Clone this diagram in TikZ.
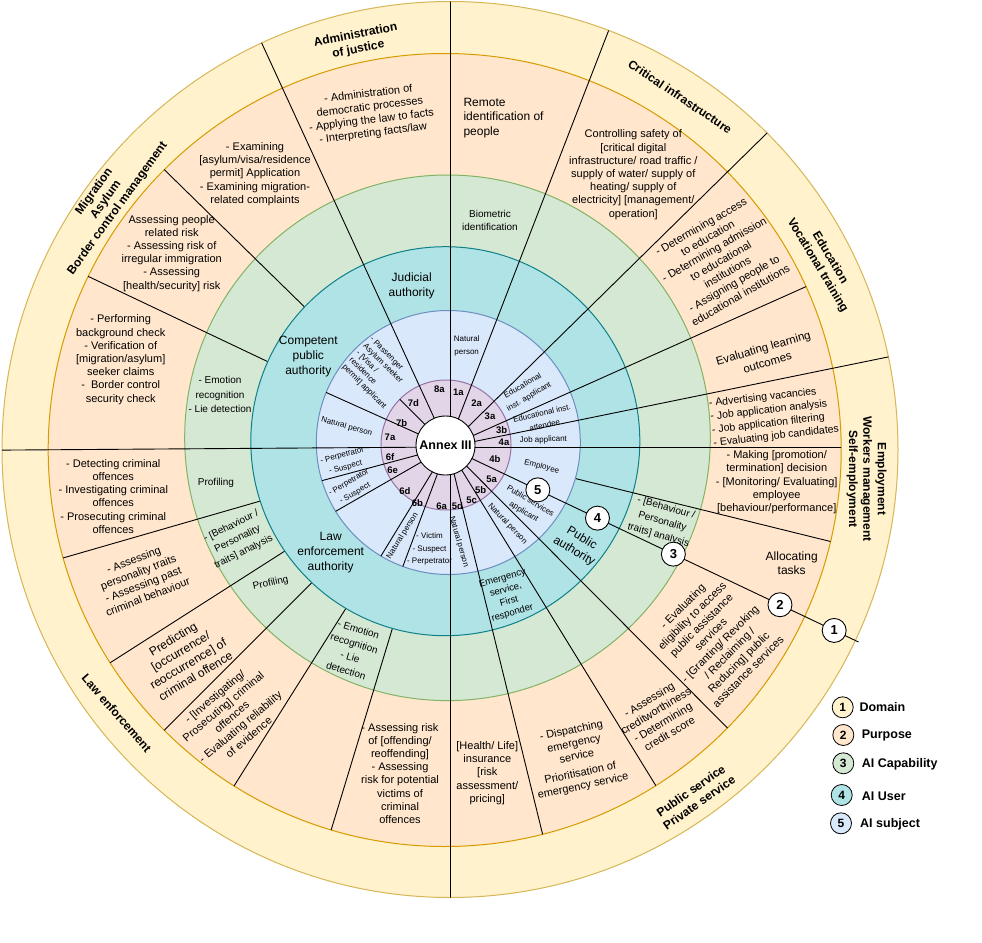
\documentclass[tikz,border=0pt]{standalone}
\usepackage{fontspec}
\setmainfont{Liberation Sans}
\usetikzlibrary{calc}
\definecolor{yF}{HTML}{FFF2CC}\definecolor{yD}{HTML}{D6B656}
\definecolor{pF}{HTML}{FFE6CC}\definecolor{pD}{HTML}{D79B00}
\definecolor{gF}{HTML}{D5E8D4}\definecolor{gD}{HTML}{82B366}
\definecolor{tF}{HTML}{B0E3E6}\definecolor{tD}{HTML}{0E8088}
\definecolor{bF}{HTML}{DAE8FC}\definecolor{bD}{HTML}{6C8EBF}
\definecolor{mF}{HTML}{E1D5E7}\definecolor{mD}{HTML}{9673A6}
\begin{document}
\begin{tikzpicture}[x=1pt,y=1pt,
  tbase/.style={inner sep=0pt, align=center, text=black},
  dom/.style={tbase, font=\fontsize{12}{14.4}\selectfont\bfseries},
  pur/.style={tbase, font=\fontsize{11}{13.2}\selectfont},
  purL/.style={tbase, font=\fontsize{12}{14.5}\selectfont},
  purM/.style={tbase, font=\fontsize{11.5}{15}\selectfont},
  purS/.style={tbase, font=\fontsize{10.5}{13.3}\selectfont},
  capA/.style={tbase, font=\fontsize{10}{14.3}\selectfont},
  capB/.style={tbase, font=\fontsize{10}{13}\selectfont},
  usr/.style={tbase, font=\fontsize{12}{15}\selectfont},
  usrS/.style={tbase, font=\fontsize{9.5}{12}\selectfont},
  subj/.style={tbase, font=\fontsize{8}{12.5}\selectfont},
  subT/.style={tbase, font=\fontsize{8}{9.8}\selectfont},
  idl/.style={tbase, font=\fontsize{9.5}{11}\selectfont\bfseries},
  spoke/.style={draw=black, line width=0.9pt},
  ringline/.style={line width=1pt},
  mk/.style={circle, draw=black, fill=white, line width=0.9pt, minimum size=24pt, inner sep=0pt, font=\fontsize{13}{13}\selectfont\bfseries},
  lg/.style={circle, draw=black, line width=0.8pt, minimum size=21pt, inner sep=0pt, font=\fontsize{12}{12}\selectfont\bfseries},
  lgt/.style={tbase, anchor=west, font=\fontsize{12.5}{13}\selectfont\bfseries}
]
\useasboundingbox (0,0) rectangle (982,-942);
\fill[white] (0,0) rectangle (982,-942);
\coordinate (Lc) at (447.5,-447);
% rings
\draw[ringline, draw=yD, fill=yF] (450,-449.5) circle (448pt);
\draw[ringline, draw=pD, fill=pF] (444.7,-450) circle (396.5pt);
\draw[ringline, draw=gD, fill=gF] (447.5,-437.8) circle (262.8pt);
% spokes from teal edge to peach edge
\begin{scope}
  \clip (444.7,-450) circle (396.5pt);
  \foreach \a in {135.6,154.6,196.1,212.6,225,237.8,253.1} \draw[spoke] (Lc) -- ++(\a:470pt);
\end{scope}
\draw[ringline, draw=tD, fill=tF] (445.3,-441.2) circle (194.5pt);
\begin{scope}
  \clip (444.7,-450) circle (396.5pt);
  \draw[spoke] (Lc) -- ++(-13.86:470pt);
\end{scope}
\draw[ringline, draw=bD, fill=bF] (448.3,-442.5) circle (132pt);
\draw[ringline, draw=mD, fill=mF] (446,-445) circle (65pt);
% spokes inside subject ring
\begin{scope}
  \clip (448.3,-442.5) circle (132pt);
  \foreach \a in {155.8,195.0,209.9,238.6,249.5} \draw[spoke] (Lc) -- ++(\a:200pt);
\end{scope}
\begin{scope}
  \clip (446,-445) circle (65pt);
  \draw[spoke] (Lc) -- ++(135:100pt);
\end{scope}
% spokes centre to purpose edge
\begin{scope}
  \clip (444.7,-450) circle (396.5pt);
  \foreach \a in {24.1,0,-45.1,-58.4,-76.2} \draw[spoke] (Lc) -- ++(\a:470pt);
\end{scope}
% spokes centre to outer edge
\begin{scope}
  \clip (450,-449.5) circle (448pt);
  \foreach \a in {114.7,68.85,44.5,11.55,180.4} \draw[spoke] (Lc) -- ++(\a:500pt);
  \draw[spoke] (450.5,10) -- (450.5,-910);
\end{scope}
\draw[spoke] (Lc) -- ++(-25.38:455pt) coordinate (Pend);
\node[circle, draw=black, fill=white, line width=0.9pt, minimum size=59pt, inner sep=0pt, font=\fontsize{12.5}{14}\selectfont\bfseries] (annex) at (445.5,-445.5) {Annex III};

% domain labels
\node[dom, rotate=11] (d1) at (357,-42.5) {Administration\\of justice};
\node[dom, rotate=-34] (d2) at (680,-96.7) {Critical infrastructure};
\node[dom, rotate=-59] (d3) at (823.7,-261.7) {Education\\Vocational training};
\node[dom, rotate=-90] (d4) at (866.5,-479) {Employment\\Workers management\\Self-employment};
\node[dom, rotate=35] (d5) at (695,-796.7) {Public service\\Private service};
\node[dom, rotate=-49] (d6) at (116.7,-713.3) {Law enforcement};
\node[dom, rotate=54] (d7) at (106,-200) {Migration\\Asylum\\Border control management};

% purpose labels
\node[pur, rotate=7] (p1) at (370.7,-114) {- Administration of\\democratic processes\\- Applying the law to facts\\- Interpreting facts/law};
\node[purL, anchor=west, align=left] (p2) at (463.3,-117.7) {Remote\\identification of\\people};
\node[pur] (p3) at (633.3,-174.7) {Controlling safety of\\{[}critical digital\\infrastructure/ road traffic /\\supply of water/ supply of\\heating/ supply of\\electricity] {[}management/\\operation]};
\node[pur, rotate=30] (p4) at (720.7,-260.7) {- Determining access\\to education\\- Determining admission\\to educational\\institutions\\- Assigning people to\\educational institutions};
\node[purM, rotate=16] (p5) at (765.3,-355) {Evaluating learning\\outcomes};
\node[purS, rotate=6.5, align=left] (p6) at (774,-416.7) {- Advertising vacancies\\- Job application analysis\\- Job application filtering\\- Evaluating job candidates};
\node[pur] (p7) at (776.7,-482.3) {- Making {[}promotion/\\termination] decision\\- {[}Monitoring/ Evaluating]\\employee\\{[}behaviour/performance]};
\node[purL] (p8) at (791.7,-563.3) {Allocating\\tasks};
\node[pur, rotate=45] (p9) at (715.3,-639) {- Evaluating\\eligibility to access\\public assistance\\services\\- {[}Granting/ Revoking\\/ Reclaiming /\\Reducing] public\\assistance services};
\node[pur, rotate=31] (p10) at (659.3,-716.7) {- Assessing\\creditworthiness\\- Determining\\credit score};
\node[pur, rotate=12] (p11) at (577.3,-758.7) {- Dispatching\\emergency\\service\\[4pt]Prioritisation of\\emergency service};
\node[pur] (p12) at (487.3,-773) {{[}Health/ Life]\\insurance\\{[}risk\\assessment/\\pricing]};
\node[pur] (p13) at (400,-773.3) {- Assessing risk\\of {[}offending/\\reoffending]\\- Assessing\\risk for potential\\victims of\\criminal\\offences};
\node[pur, rotate=40] (p14) at (231.7,-716.7) {- {[}Investigating/\\Prosecuting] criminal\\offences\\- Evaluating reliability\\of evidence};
\node[purL, rotate=31] (p15) at (184.3,-657.5) {Predicting\\{[}occurrence/\\reoccurrence] of\\criminal offence};
\node[pur, rotate=21] (p16) at (140.7,-578.3) {- Assessing\\personality traits\\- Assessing past\\criminal behaviour};
\node[pur] (p17) at (113.3,-496.3) {- Detecting criminal\\offences\\- Investigating criminal\\offences\\- Prosecuting criminal\\offences};
\node[pur] (p18) at (120.7,-359.7) {- Performing\\background check\\- Verification of\\{[}migration/asylum]\\seeker claims\\-\ \ Border control\\security check};
\node[pur] (p19) at (171.7,-253.3) {Assessing people\\related risk\\- Assessing risk of\\irregular immigration\\- Assessing\\{[}health/security] risk};
\node[pur] (p20) at (255,-174) {- Examining\\{[}asylum/visa/residence\\permit] Application\\- Examining migration-\\related complaints};

% capability labels
\node[capB] (c1) at (490,-220.8) {Biometric\\identification};
\node[capA] (c2) at (220,-394.5) {- Emotion\\recognition\\- Lie detection};
\node[capA] (c3) at (216,-483.3) {Profiling};
\node[capA, rotate=26] (c4) at (237.5,-539.2) {- {[}Behaviour /\\Personality\\traits] analysis};
\node[capA, rotate=13] (c5) at (270.7,-583.3) {Profiling};
\node[capA, rotate=-17] (c6) at (352.3,-650) {- Emotion\\recognition\\- Lie\\detection};
\node[capA, rotate=-16] (c7) at (662.3,-521.7) {- {[}Behaviour /\\Personality\\traits] analysis};

% user labels
\node[usr] (u1) at (411.7,-286) {Judicial\\authority};
\node[usr] (u2) at (308.3,-357) {Competent\\public\\authority};
\node[usr] (u3) at (330.7,-552.7) {Law\\enforcement\\authority};
\node[usrS, rotate=16] (u4) at (507.5,-596) {Emergency\\service,\\First\\responder};
\node[usr, rotate=-31] (u5) at (577.9,-545) {Public\\authority};

% subject labels
\node[subj] (s1a) at (466.7,-345.8) {Natural\\person};
\node[subj, rotate=30] (s3a) at (526,-391.5) {Educational\\inst. applicant};
\node[subj, rotate=13] (s3b) at (543.3,-419) {Educational inst.\\attendee};
\node[subj, rotate=2] (s4a) at (543.3,-440) {Job applicant};
\node[subj, rotate=-15] (s4b) at (541.7,-466.7) {Employee};
\node[subj, rotate=-31] (s5a) at (527,-506.7) {Public services\\applicant};
\node[subj, rotate=-46] (s5b) at (507.5,-524) {Natural person};
\node[subj, rotate=-74] (s5d) at (458.8,-541.7) {Natural person};
\node[subj] (s6a) at (429.5,-549.3) {- Victim\\- Suspect\\- Perpetrator};
\node[subj, rotate=58] (s6b) at (402.5,-535.8) {Natural person};
\node[subj, rotate=30] (s6e) at (352,-488) {- Perpetrator\\- Suspect};
\node[subj, rotate=15] (s6f) at (344,-461.7) {- Perpetrator\\- Suspect};
\node[subj, rotate=-16] (s7a) at (346.7,-426.7) {Natural person};
\node[subT, rotate=-45, align=left] (s7b) at (378,-373) {- Passenger\\Asylum seeker\\- {[}Visa /\\residence\\permit] applicant};

% ids
\node[idl] (i8a) at (439.3,-389.3) {8a};
\node[idl] (i1a) at (458.3,-392.3) {1a};
\node[idl] (i2a) at (476.7,-403.3) {2a};
\node[idl] (i3a) at (490,-416) {3a};
\node[idl] (i3b) at (501.7,-430) {3b};
\node[idl] (i4a) at (504,-442.3) {4a};
\node[idl] (i4b) at (495,-459.3) {4b};
\node[idl] (i5a) at (491.7,-479.3) {5a};
\node[idl] (i5b) at (480.7,-490) {5b};
\node[idl] (i5c) at (471.7,-500.7) {5c};
\node[idl] (i5d) at (457.3,-506) {5d};
\node[idl] (i6a) at (441.7,-506) {6a};
\node[idl] (i6b) at (417.3,-502.7) {6b};
\node[idl] (i6d) at (405,-490.7) {6d};
\node[idl] (i6e) at (392.7,-470.7) {6e};
\node[idl] (i6f) at (390,-456.7) {6f};
\node[idl] (i7a) at (390,-437.3) {7a};
\node[idl] (i7b) at (401.7,-423.3) {7b};
\node[idl] (i7d) at (413.3,-402.7) {7d};

% level markers on the pointer line
\node[mk] (m5) at ($(Lc)+(-25.38:100pt)$) {5};
\node[mk] (m4) at ($(Lc)+(-25.38:166pt)$) {4};
\node[mk] (m3) at ($(Lc)+(-25.38:250pt)$) {3};
\node[mk] (m2) at ($(Lc)+(-25.38:368pt)$) {2};
\node[mk] (m1) at ($(Lc)+(-25.38:428pt)$) {1};

% legend
\node[lg, fill=yF] (l1) at (842.7,-707.3) {1};
\node[lgt] (lt1) at (859.3,-707.3) {Domain};
\node[lg, fill=pF] (l2) at (843.3,-735) {2};
\node[lgt] (lt2) at (861.7,-735) {Purpose};
\node[lg, fill=gF] (l3) at (843.3,-763.3) {3};
\node[lgt] (lt3) at (861.7,-764) {AI Capability};
\node[lg, fill=tF] (l4) at (841.7,-795) {4};
\node[lgt] (lt4) at (861.7,-796.7) {AI User};
\node[lg, fill=bF] (l5) at (841,-823.3) {5};
\node[lgt] (lt5) at (860,-824) {AI subject};
\end{tikzpicture}
\end{document}
